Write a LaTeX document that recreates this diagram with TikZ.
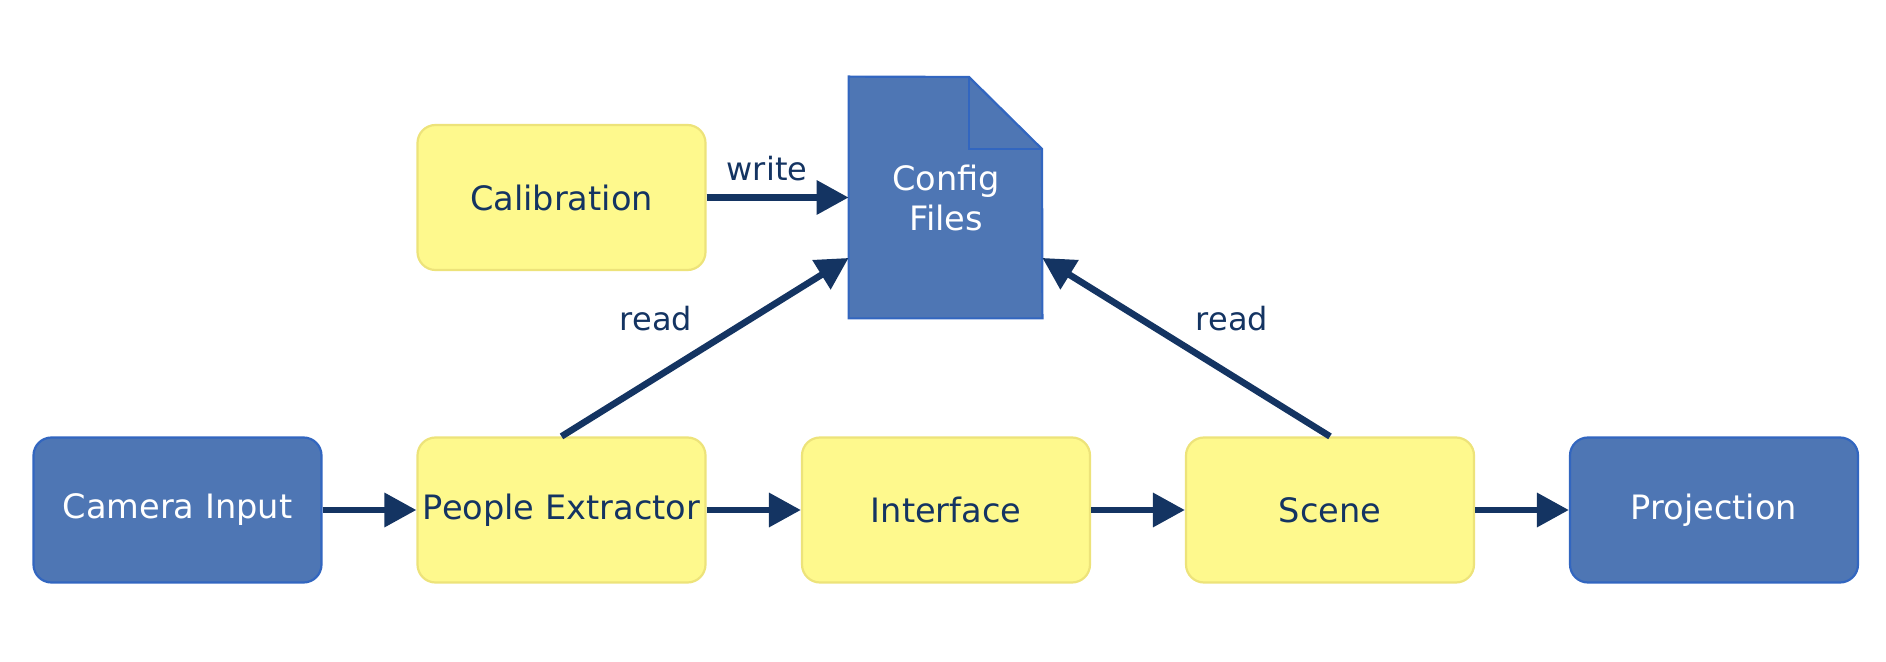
\documentclass[tikz,border=0pt]{standalone}
\usepackage{fontspec}
\setmainfont{DejaVu Sans}
\usetikzlibrary{arrows.meta,calc}
\definecolor{bfill}{HTML}{4E76B4}
\definecolor{bline}{HTML}{3266C0}
\definecolor{yfill}{HTML}{FEF98D}
\definecolor{yline}{HTML}{EDE37A}
\definecolor{navy}{HTML}{143462}
\tikzset{
  boxbase/.style={rectangle, rounded corners=9pt, line width=1.1pt,
    minimum width=144pt, minimum height=72.5pt, inner sep=0pt,
    font=\fontsize{16.8}{20}\selectfont},
  bluebox/.style={boxbase, fill=bfill, draw=bline, text=white},
  yellowbox/.style={boxbase, fill=yfill, draw=yline, text=navy},
  conn/.style={draw=navy, line width=3.3pt, -{Triangle[length=16pt,width=16.5pt]}},
  lbl/.style={text=navy, font=\fontsize{16}{19}\selectfont, anchor=base, inner sep=0pt}
}
\begin{document}
\begin{tikzpicture}[x=0.5pt,y=-0.5pt]
\useasboundingbox (0,0) rectangle (1886,662);
\node[bluebox] (cam) at (177.5,510) {Camera Input};
\node[yellowbox] (pe) at (561.5,510) {People Extractor};
\node[yellowbox] (itf) at (946,510) {Interface};
\node[yellowbox] (sc) at (1330,510) {Scene};
\node[bluebox] (proj) at (1714,510) {Projection};
\node[yellowbox] (cal) at (561.5,197.5) {Calibration};
% config file
\node[rectangle, minimum width=96.5pt, minimum height=120.5pt, inner sep=0pt] (cfg) at (945.5,197.5) {};
\draw[fill=bfill, draw=bline, line width=1.1pt, line join=miter]
  (cfg.north west) -- (969,77) -- (1042,149) -- (cfg.south east) -- (cfg.south west) -- cycle;
\draw[draw=bline, line width=1.1pt] (969,77) -- (969,149) -- (1042,149);
\node[text=white, align=center, font=\fontsize{16.8}{20}\selectfont] (cfgt) at (946,198) {Config\\Files};
% connectors
\draw[conn] (cam.east) -- (pe.west);
\draw[conn] (pe.east) -- (itf.west);
\draw[conn] (itf.east) -- (sc.west);
\draw[conn] (sc.east) -- (proj.west);
\draw[conn] (cal.east) -- (cfg.west);
\coordinate (cfgL) at ($(cfg.north west)!0.75!(cfg.south west)$);
\coordinate (cfgR) at ($(cfg.north east)!0.75!(cfg.south east)$);
\draw[conn] (pe.north) -- (cfgL);
\draw[conn] (sc.north) -- (cfgR);
\node[lbl] (lw) at (767,181) {write};
\node[lbl] (lr1) at (656,331) {read};
\node[lbl] (lr2) at (1232,331) {read};
\end{tikzpicture}
\end{document}
